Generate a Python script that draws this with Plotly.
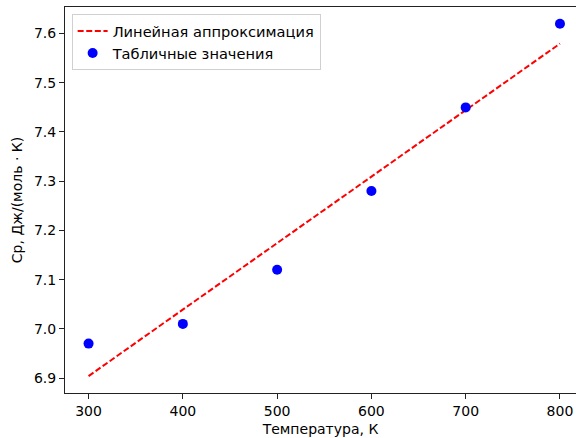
import plotly.graph_objects as go

temps = [300, 400, 500, 600, 700, 800]
cp_values = [6.97, 7.01, 7.12, 7.28, 7.45, 7.62]
fit_x = [300, 800]
fit_y = [6.904, 7.5795]

x_ticks = [300, 400, 500, 600, 700, 800]
y_ticks = [6.9, 7.0, 7.1, 7.2, 7.3, 7.4, 7.5, 7.6]
y_labels = ["6.9", "7.0", "7.1", "7.2", "7.3", "7.4", "7.5", "7.6"]

fig = go.Figure()
fig.add_trace(go.Scatter(x=fit_x, y=fit_y, mode="lines",
                         name="Линейная аппроксимация",
                         line=dict(color="red", width=2, dash="6px,2.6px")))
fig.add_trace(go.Scatter(x=temps, y=cp_values, mode="markers",
                         name="Табличные значения",
                         marker=dict(color="blue", size=10)))

font = dict(family="DejaVu Sans", size=14, color="black")
title_font = dict(family="DejaVu Sans", size=14, color="black")
fig.update_layout(
    width=576, height=438,
    margin=dict(l=65, r=0, t=7, b=45, autoexpand=False),
    paper_bgcolor="white", plot_bgcolor="white",
    font=font,
    showlegend=True,
    legend=dict(x=0.013, y=0.982, xanchor="left", yanchor="top",
                bordercolor="#d0d0d0", borderwidth=1, bgcolor="rgba(255,255,255,0.8)",
                font=dict(family="DejaVu Sans", size=14.6), tracegroupgap=0),
    xaxis=dict(range=[275, 817], tickvals=x_ticks, showgrid=False, zeroline=False,
               showline=True, linecolor="#222", linewidth=1, mirror=True,
               ticks="outside", ticklen=5, tickcolor="#222",
               tickfont=font,
               title=dict(text="Температура, К", standoff=6, font=title_font)),
    yaxis=dict(range=[6.8696, 7.654], tickvals=y_ticks, ticktext=y_labels,
               showgrid=False, zeroline=False,
               showline=True, linecolor="#222", linewidth=1,
               ticks="outside", ticklen=5, tickcolor="#222",
               tickfont=font,
               title=dict(text="Cp, Дж/(моль · К)", standoff=8, font=title_font)),
)
fig.write_html("out.html", config={"displayModeBar": False},
               post_script="document.body.style.margin='0';document.body.style.overflow='hidden';")
